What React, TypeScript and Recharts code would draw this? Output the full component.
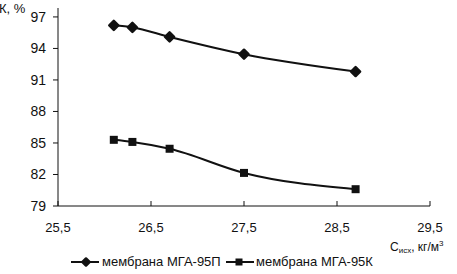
import { LineChart, Line, XAxis, YAxis, Legend } from 'recharts';

// concentration, kg/m3
const concP = [26.1, 26.3, 26.7, 27.5, 28.7];
const concK = [26.1, 26.3, 26.7, 27.5, 28.7];
// retention, %
const retP = [96.2, 96.0, 95.1, 93.45, 91.8];
const retK = [85.3, 85.1, 84.45, 82.15, 80.6];

const xTicks = [25.5, 26.5, 27.5, 28.5, 29.5];
const yTicks = [79, 82, 85, 88, 91, 94, 97];
const seriesNames = ['мембрана МГА-95П', 'мембрана МГА-95К'];

const dataP = concP.map((x, i) => ({ x, y: retP[i] }));
const dataK = concK.map((x, i) => ({ x, y: retK[i] }));

const FONT = '"Liberation Sans", Arial, sans-serif';
const INK = '#111';

const Diamond = ({ cx, cy, size = 4.5 }: any) => (
  <path
    d={`M${cx},${cy - size}L${cx + size},${cy}L${cx},${cy + size}L${cx - size},${cy}Z`}
    fill={INK}
    stroke={INK}
    strokeWidth={2.5}
    strokeLinejoin="round"
  />
);

const Square = ({ cx, cy, size = 4 }: any) => (
  <rect x={cx - size} y={cy - size} width={size * 2} height={size * 2} fill={INK} />
);

const XTick = ({ x, y, payload }: any) => (
  <g>
    <line x1={x} y1={y} x2={x} y2={y - 5} stroke={INK} strokeWidth={1} />
    <text x={x} y={y + 26} textAnchor="middle" fontSize={13} fontFamily={FONT} fill={INK}>
      {String(payload.value).replace('.', ',')}
    </text>
  </g>
);

const XTitle = () => (
  <text x={390} y={251} fontFamily={FONT} fill={INK} fontSize={12}>
    C
    <tspan fontSize={8} dy={2}>исх</tspan>
    <tspan fontSize={12} dy={-2}>, кг/м</tspan>
    <tspan fontSize={8} dy={-5}>3</tspan>
  </text>
);

const YTitle = () => (
  <text x={-1} y={13} fontFamily={FONT} fill={INK} fontSize={13}>
    К, %
  </text>
);

const legendPos = [
  { lx: 71, mx: 86, tx: 102, shape: 'diamond' },
  { lx: 226, mx: 239, tx: 256, shape: 'square' },
];

const LegendContent = () => (
  <svg width={457} height={18}>
    {seriesNames.map((name, i) => {
      const p = legendPos[i];
      return (
        <g key={name}>
          <line x1={p.lx} y1={10} x2={p.lx + 28} y2={10} stroke={INK} strokeWidth={2} />
          {p.shape === 'diamond' ? (
            <Diamond cx={p.mx} cy={10} size={3.5} />
          ) : (
            <Square cx={p.mx} cy={10} size={3.5} />
          )}
          <text x={p.tx} y={14} fontSize={13} fontFamily={FONT} fill={INK}>
            {name}
          </text>
        </g>
      );
    })}
  </svg>
);

export default function App() {
  return (
    <div style={{ width: 457, height: 274, background: '#fff' }}>
      <style>{'body{margin:0}'}</style>
      <LineChart width={457} height={274} margin={{ top: 8, right: 27, left: 0, bottom: 20 }}>
        <XAxis
          type="number"
          dataKey="x"
          domain={[25.5, 29.5]}
          ticks={xTicks}
          height={30}
          tickSize={0}
          tickMargin={0}
          tickLine={false}
          tick={<XTick />}
          stroke={INK}
          allowDataOverflow
          label={<XTitle />}
        />
        <YAxis
          type="number"
          dataKey="y"
          domain={[79, 97.85]}
          ticks={yTicks}
          width={58}
          tickSize={5}
          tickMargin={7}
          stroke={INK}
          tick={{ fontSize: 14, fontFamily: FONT, fill: INK }}
          allowDataOverflow
          label={<YTitle />}
        />
        <Legend
          verticalAlign="bottom"
          content={<LegendContent />}
          wrapperStyle={{ top: 252, left: 0, width: 457, height: 18 }}
        />
        <Line
          data={dataP}
          dataKey="y"
          name={seriesNames[0]}
          type="monotone"
          stroke={INK}
          strokeWidth={2}
          dot={(p: any) => <Diamond key={p.index} cx={p.cx} cy={p.cy} />}
          isAnimationActive={false}
        />
        <Line
          data={dataK}
          dataKey="y"
          name={seriesNames[1]}
          type="monotone"
          stroke={INK}
          strokeWidth={2}
          dot={(p: any) => <Square key={p.index} cx={p.cx} cy={p.cy} />}
          isAnimationActive={false}
        />
      </LineChart>
    </div>
  );
}
